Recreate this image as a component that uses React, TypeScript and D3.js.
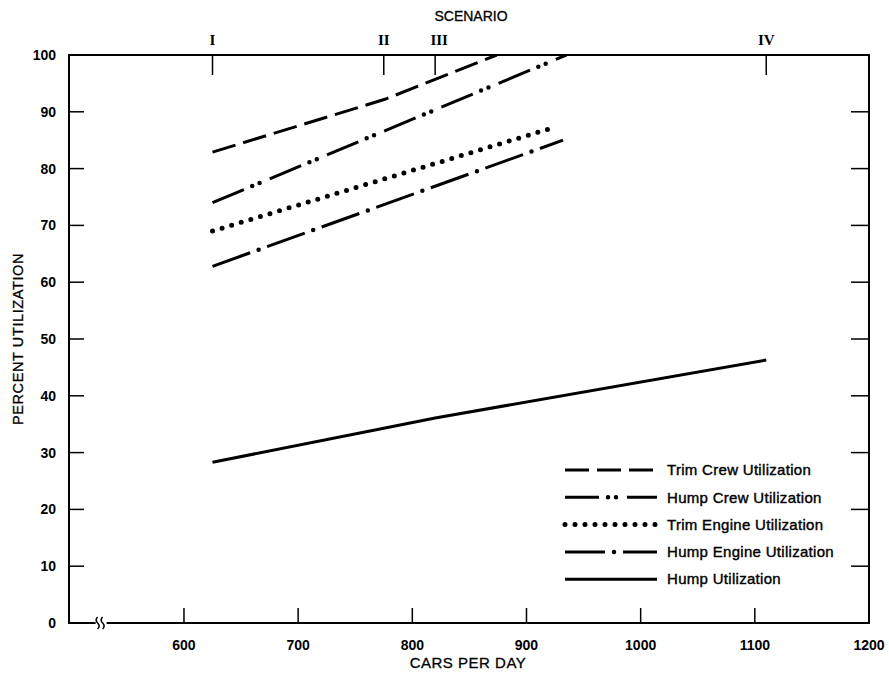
import React from 'react';
import * as d3 from 'd3';

const xTicks = [600, 700, 800, 900, 1000, 1100, 1200];
const yTicks = [0, 10, 20, 30, 40, 50, 60, 70, 80, 90, 100];
const scenarioLabels = ['I', 'II', 'III', 'IV'];
const scenarioCars = [625, 775, 820, 1110];

const trimCrewCars = [625, 776, 874];
const trimCrewPct = [82.9, 92.2, 100];
const humpCrewCars = [625, 935];
const humpCrewPct = [74, 100];
const trimEngineCars = [625, 925];
const trimEnginePct = [69, 87.3];
const humpEngineCars = [625, 932];
const humpEnginePct = [62.8, 85];
const humpCars = [625, 775, 820, 1110];
const humpPct = [28.3, 34.3, 36.1, 46.3];

const seriesNames = [
  'Trim Crew Utilization',
  'Hump Crew Utilization',
  'Trim Engine Utilization',
  'Hump Engine Utilization',
  'Hump Utilization',
];

const W = 889;
const H = 676;
const left = 69;
const right = 869;
const top = 55;
const bottom = 623;

const SANS = '"Liberation Sans", Arial, Helvetica, sans-serif';
const SERIF = '"Liberation Serif", "Times New Roman", serif';

// dash part + optional dot part for each line style
const styles = [
  { dash: '24 8', dots: null, dotW: 0 },
  { dash: '34 28', dots: { arr: '0 8 0 54', off: 19 }, dotW: 4.5 },
  { dash: null, dots: { arr: '0 10', off: 0 }, dotW: 5 },
  { dash: '40 18', dots: { arr: '0 58', off: 9 }, dotW: 4.5 },
  { dash: 'none', dots: null, dotW: 0 },
];

const StyledPath = ({ d, i }: { d: string; i: number }) => {
  const s = styles[i];
  return (
    <g>
      {s.dash && (
        <path d={d} fill="none" stroke="#000" strokeWidth={3} strokeDasharray={s.dash} />
      )}
      {s.dots && (
        <path
          d={d}
          fill="none"
          stroke="#000"
          strokeWidth={s.dotW}
          strokeLinecap="round"
          strokeDasharray={s.dots.arr}
          strokeDashoffset={s.dots.off}
        />
      )}
    </g>
  );
};

const App = () => {
  const x = d3.scaleLinear().domain([500, 1200]).range([left + 0.8, right]);
  const y = d3.scaleLinear().domain([0, 100]).range([bottom, top]);

  const line = d3
    .line<[number, number]>()
    .x((d) => x(d[0]))
    .y((d) => y(d[1]));

  const zip = (a: number[], b: number[]) => a.map((v, i) => [v, b[i]] as [number, number]);

  const series = [
    zip(trimCrewCars, trimCrewPct),
    zip(humpCrewCars, humpCrewPct),
    zip(trimEngineCars, trimEnginePct),
    zip(humpEngineCars, humpEnginePct),
    zip(humpCars, humpPct),
  ];

  const legendX0 = 565;
  const legendX1 = 657;
  const legendY0 = 470;
  const legendStep = 27.3;

  return (
    <svg width={W} height={H} style={{ position: 'absolute', left: 0, top: 0, background: '#fff' }}>
      <defs>
        <clipPath id="plot">
          <rect x={left} y={top} width={right - left} height={bottom - top} />
        </clipPath>
      </defs>

      {/* frame */}
      <rect x={left} y={top} width={right - left} height={bottom - top} fill="none" stroke="#000" strokeWidth={2} />

      {/* axis break on x axis */}
      <rect x={x(527) - 5} y={bottom - 3} width={11} height={6} fill="#fff" />
      {[-3, 2].map((dx) => (
        <path
          key={dx}
          d={`M${x(527) + dx},${bottom - 6} q-3,3 0,6 q3,3 0,6`}
          fill="none"
          stroke="#000"
          strokeWidth={1.5}
        />
      ))}

      {/* y ticks left and right */}
      {yTicks.slice(1, -1).map((t) => (
        <g key={t}>
          <line x1={left} x2={left + 15} y1={y(t)} y2={y(t)} stroke="#000" strokeWidth={1.5} />
          <line x1={right - 18} x2={right} y1={y(t)} y2={y(t)} stroke="#000" strokeWidth={1.5} />
        </g>
      ))}
      {yTicks.map((t) => (
        <text
          key={t}
          x={56}
          y={y(t)}
          dy="0.35em"
          textAnchor="end"
          fontFamily={SANS}
          fontWeight="bold"
          fontSize={14}
        >
          {t}
        </text>
      ))}

      {/* x ticks */}
      {xTicks.map((t) => (
        <g key={t}>
          {t < 1200 && (
            <line x1={x(t)} x2={x(t)} y1={bottom} y2={bottom - 15} stroke="#000" strokeWidth={1.5} />
          )}
          <text
            x={x(t)}
            y={650}
            textAnchor="middle"
            fontFamily={SANS}
            fontWeight="bold"
            fontSize={14}
          >
            {t}
          </text>
        </g>
      ))}

      {/* scenario ticks on top */}
      {scenarioCars.map((c, i) => (
        <g key={scenarioLabels[i]}>
          <line x1={x(c)} x2={x(c)} y1={top} y2={top + 20} stroke="#000" strokeWidth={1.5} />
          <text
            x={x(c) + (i === 2 ? 4 : 0)}
            y={45}
            textAnchor="middle"
            fontFamily={SERIF}
            fontWeight="bold"
            fontSize={15}
          >
            {scenarioLabels[i]}
          </text>
        </g>
      ))}

      {/* titles */}
      <text x={471} y={21} textAnchor="middle" fontFamily={SANS} fontSize={14} stroke="#000" strokeWidth={0.3}>
        SCENARIO
      </text>
      <text
        x={468}
        y={668}
        textAnchor="middle"
        fontFamily={SANS}
        fontSize={15}
        letterSpacing={0.5}
        stroke="#000"
        strokeWidth={0.3}
      >
        CARS PER DAY
      </text>
      <text
        transform={`translate(23,${(top + bottom) / 2}) rotate(-90)`}
        textAnchor="middle"
        fontFamily={SANS}
        fontSize={14.5}
        letterSpacing={0.6}
        stroke="#000"
        strokeWidth={0.3}
      >
        PERCENT UTILIZATION
      </text>

      {/* series */}
      <g clipPath="url(#plot)">
        {series.map((s, i) => (
          <StyledPath key={seriesNames[i]} d={line(s) ?? ''} i={i} />
        ))}
      </g>

      {/* legend */}
      {seriesNames.map((name, i) => {
        const ly = legendY0 + i * legendStep;
        return (
          <g key={name}>
            <StyledPath d={`M${legendX0},${ly}H${legendX1}`} i={i} />
            <text
              x={667}
              y={ly}
              dy="0.35em"
              fontFamily={SANS}
              fontSize={15}
              letterSpacing={0.3}
              stroke="#000"
              strokeWidth={0.4}
            >
              {name}
            </text>
          </g>
        );
      })}
    </svg>
  );
};

export default App;
